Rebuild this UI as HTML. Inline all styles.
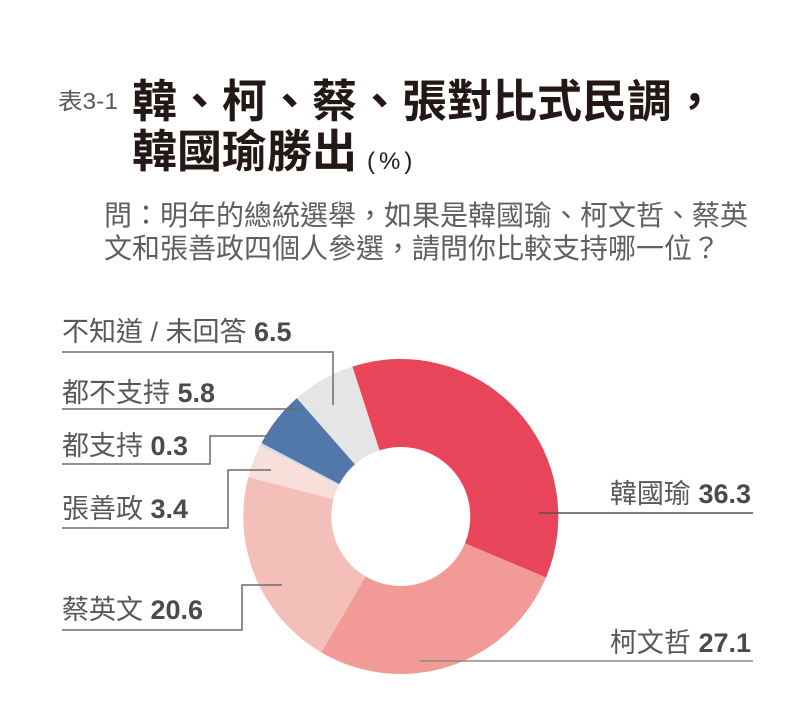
<!DOCTYPE html>
<html><head><meta charset="utf-8"><style>
html,body{margin:0;padding:0;background:#fff;}
svg{display:block;}
text{font-family:"Liberation Sans","Noto Sans CJK TC",sans-serif;}
</style></head><body>
<svg width="792" height="721" viewBox="0 0 792 721" xmlns="http://www.w3.org/2000/svg">
<rect width="792" height="721" fill="#fff"/>
<!-- Title -->
<text x="58" y="109" font-size="23" fill="#595757" textLength="60" lengthAdjust="spacingAndGlyphs">表3-1</text>
<text x="132" y="117" font-size="45" font-weight="bold" fill="#231815">韓、柯、蔡、張對比式民調，</text>
<text x="132" y="167" font-size="45" font-weight="bold" fill="#231815">韓國瑜勝出</text>
<text x="367" y="169" font-size="24" fill="#231815" letter-spacing="4">(%)</text>
<!-- Question -->
<text x="104" y="225" font-size="28" fill="#5f5f5f">問：明年的總統選舉，如果是韓國瑜、柯文哲、蔡英</text>
<text x="104" y="258" font-size="28" fill="#5f5f5f">文和張善政四個人參選，請問你比較支持哪一位？</text>
<!-- Donut -->
<g stroke="none">
<path d="M352.39,366.62 A157.5,157.5 0 0 1 546.02,577.48 L464.88,543.41 A69.5,69.5 0 0 0 379.44,450.36 Z" fill="#e8455a"/>
<path d="M546.02,577.48 A157.5,157.5 0 0 1 321.25,652.42 L365.70,576.48 A69.5,69.5 0 0 0 464.88,543.41 Z" fill="#f19a96"/>
<path d="M321.25,652.42 A157.5,157.5 0 0 1 248.32,477.06 L333.52,499.10 A69.5,69.5 0 0 0 365.70,576.48 Z" fill="#f5bfb9"/>
<path d="M248.32,477.06 A157.5,157.5 0 0 1 260.14,445.64 L338.73,485.23 A69.5,69.5 0 0 0 333.52,499.10 Z" fill="#f9dfd9"/>
<path d="M260.14,445.64 A157.5,157.5 0 0 1 261.49,443.01 L339.33,484.07 A69.5,69.5 0 0 0 338.73,485.23 Z" fill="#d3dcec"/>
<path d="M261.49,443.01 A157.5,157.5 0 0 1 296.85,398.17 L354.93,464.28 A69.5,69.5 0 0 0 339.33,484.07 Z" fill="#5277aa"/>
<path d="M296.85,398.17 A157.5,157.5 0 0 1 352.39,366.62 L379.44,450.36 A69.5,69.5 0 0 0 354.93,464.28 Z" fill="#e5e5e5"/>
</g>
<!-- Leader lines -->
<g fill="none" stroke="#6b6b6b" stroke-width="1.5">
<polyline points="62,352 333,352 333,405"/>
<polyline points="62,409 300,409"/>
<polyline points="62,464 210,464 210,436 270,436"/>
<polyline points="62,528 228,528 228,470 271,470"/>
<polyline points="62,630 242,630 242,585 282,585"/>
<polyline points="539,513 753,513" stroke="#5a5050"/>
<polyline points="420,661 753,661" stroke="#8c8a84"/>
</g>
<!-- Labels -->
<g font-size="27" fill="#595757">
<text x="62" y="341">不知道 / 未回答 <tspan font-weight="bold" fill="#4a4a4a">6.5</tspan></text>
<text x="62" y="402">都不支持 <tspan font-weight="bold" fill="#4a4a4a">5.8</tspan></text>
<text x="62" y="455">都支持 <tspan font-weight="bold" fill="#4a4a4a">0.3</tspan></text>
<text x="62" y="518">張善政 <tspan font-weight="bold" fill="#4a4a4a">3.4</tspan></text>
<text x="62" y="619">蔡英文 <tspan font-weight="bold" fill="#4a4a4a">20.6</tspan></text>
<text x="751" y="503" text-anchor="end">韓國瑜 <tspan font-weight="bold" fill="#4a4a4a">36.3</tspan></text>
<text x="751" y="652" text-anchor="end">柯文哲 <tspan font-weight="bold" fill="#4a4a4a">27.1</tspan></text>
</g>
</svg>
</body></html>
